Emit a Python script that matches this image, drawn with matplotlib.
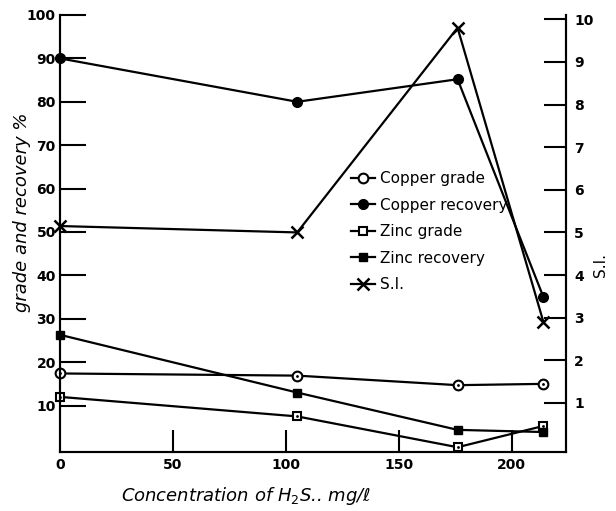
import matplotlib
matplotlib.use("Agg")
import matplotlib.pyplot as plt

# concentration of H2S, mg/l
conc = [0, 105, 176, 214]

copper_grade = [17.4, 16.9, 14.7, 15.0]
copper_recovery = [90, 80, 85.2, 35]
zinc_grade = [12.0, 7.5, 0.4, 5.3]
zinc_recovery = [26.3, 13.0, 4.4, 3.9]
si = [5.15, 5.0, 9.8, 2.9]

left_ticks = [10, 20, 30, 40, 50, 60, 70, 80, 90, 100]
right_ticks = [1, 2, 3, 4, 5, 6, 7, 8, 9, 10]
x_ticks = [50, 100, 150, 200]

fig = plt.figure(figsize=(6.16, 5.11), dpi=100)
ax = fig.add_axes([60 / 616, 1 - 452 / 511, 506 / 616, 437 / 511])
ax2 = ax.twinx()

lw = 1.6
ms = 7
l1, = ax.plot(conc, copper_grade, color="black", lw=lw, marker="o", ms=ms,
              mfc="white", mec="black", mew=1.5, label="Copper grade")
ax.plot(conc, copper_grade, ls="none", marker=".", ms=2, color="black")
l2, = ax.plot(conc, copper_recovery, color="black", lw=lw, marker="o", ms=ms,
              mfc="black", mec="black", label="Copper recovery")
l3, = ax.plot(conc, zinc_grade, color="black", lw=lw, marker="s", ms=6,
              mfc="white", mec="black", mew=1.5, label="Zinc grade")
ax.plot(conc, zinc_grade, ls="none", marker=".", ms=2, color="black")
l4, = ax.plot(conc, zinc_recovery, color="black", lw=lw, marker="s", ms=6,
              mfc="black", mec="black", label="Zinc recovery")
l5, = ax2.plot(conc, si, color="black", lw=lw, marker="x", ms=9, mew=1.8,
               label="S.I.")
for ln in (l1, l2, l3, l4, l5):
    ln.set_clip_on(False)

ax.set_xlim(0, 224)
ax.set_ylim(-0.7, 100)
ax2.set_ylim(-0.15, 10.1)

ax.spines["top"].set_visible(False)
ax2.spines["top"].set_visible(False)
for sp in ("left", "bottom", "right"):
    ax.spines[sp].set_linewidth(1.5)
    ax2.spines[sp].set_linewidth(1.5)

tick_font = dict(fontsize=10, fontweight="bold", family="DejaVu Sans")
ax.set_yticks(left_ticks)
ax.set_yticklabels([str(t) for t in left_ticks], **tick_font)
ax.set_xticks(x_ticks)
ax.set_xticklabels([str(t) for t in x_ticks], **tick_font)
ax2.set_yticks(right_ticks)
ax2.set_yticklabels([str(t) for t in right_ticks], **tick_font)

ax.tick_params(axis="y", direction="in", length=19, width=1.5, pad=3)
ax.tick_params(axis="x", direction="in", length=16, width=1.5, pad=4)
ax2.tick_params(axis="y", direction="in", length=16, width=1.5, pad=6)

# the zero of the x axis is labelled too
ax.text(0, -2.0, "0", ha="center", va="top", **tick_font)

fig.text(22 / 616, 1 - 212 / 511, "grade and recovery %", rotation=90,
         ha="center", va="center", fontsize=13, style="italic")
fig.text(600 / 616, 1 - 265 / 511, "S.I.", rotation=90,
         ha="center", va="center", fontsize=11)
fig.text(246 / 616, 1 - 496 / 511, "Concentration of H$_2$S.. mg/\u2113",
         ha="center", va="center", fontsize=13, style="italic")

ax.legend(handles=[l1, l2, l3, l4, l5], loc="upper left",
          bbox_to_anchor=(0.56, 0.66), frameon=False, fontsize=11,
          handlelength=1.6, handletextpad=0.3, labelspacing=0.75,
          borderpad=0)

fig.savefig("out.png", dpi=100)
